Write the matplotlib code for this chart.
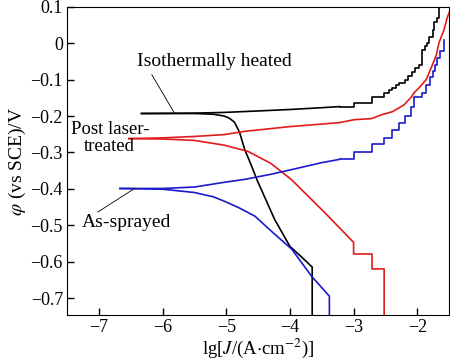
import matplotlib.pyplot as plt

plt.rcParams["font.family"] = ["Liberation Serif", "DejaVu Serif"]
plt.rcParams["mathtext.fontset"] = "stix"
plt.rcParams["font.size"] = 13

# Isothermally heated (black): smooth anodic part, stepped anodic tail, cathodic branch
iso_an_x = [-6.33, -5.5, -5.03, -4.5, -4.0, -3.5, -3.22]
iso_an_y = [-0.193, -0.192, -0.19, -0.186, -0.182, -0.177, -0.174]
iso_tail_x = [-3.22, -2.99, -2.71, -2.52, -2.45, -2.39, -2.33, -2.28, -2.20, -2.14, -2.09, -2.03, -1.97, -1.92, -1.88, -1.84, -1.81, -1.76, -1.73, -1.69, -1.66]
iso_tail_y = [-0.174, -0.163, -0.149, -0.136, -0.128, -0.122, -0.115, -0.108, -0.100, -0.09, -0.078, -0.068, -0.059, -0.018, -0.008, 0.001, 0.018, 0.037, 0.059, 0.070, 0.1]
iso_ca_x = [-6.33, -5.5, -5.2, -5.03, -4.95, -4.87, -4.79, -4.71, -4.6, -4.52, -4.24, -4.0, -3.8, -3.65, -3.65]
iso_ca_y = [-0.193, -0.193, -0.195, -0.2, -0.206, -0.217, -0.245, -0.292, -0.338, -0.374, -0.484, -0.558, -0.59, -0.615, -0.75]

# Post laser-treated (red)
las_an_x = [-6.53, -6.0, -5.5, -5.03, -4.71, -4.0, -3.5, -3.22, -2.99, -2.72, -2.55, -2.39, -2.28, -2.20, -2.09, -2.05, -1.97, -1.86, -1.78, -1.70, -1.66, -1.58, -1.53, -1.50]
las_an_y = [-0.262, -0.26, -0.256, -0.251, -0.242, -0.229, -0.222, -0.218, -0.210, -0.207, -0.196, -0.188, -0.177, -0.168, -0.147, -0.136, -0.122, -0.100, -0.067, -0.032, 0.001, 0.037, 0.070, 0.084]
las_ca_x = [-6.53, -6.0, -5.5, -5.03, -4.66, -4.3, -3.98, -3.46, -3.0, -3.0, -2.71, -2.71, -2.52, -2.52]
las_ca_y = [-0.262, -0.263, -0.267, -0.28, -0.297, -0.33, -0.374, -0.464, -0.547, -0.579, -0.579, -0.62, -0.62, -0.75]

# As-sprayed (blue)
spr_an_x = [-6.67, -6.0, -5.5, -5.03, -4.71, -4.3, -3.97, -3.5, -3.22]
spr_an_y = [-0.399, -0.399, -0.395, -0.382, -0.374, -0.36, -0.347, -0.328, -0.319]
spr_tail_x = [-3.22, -2.99, -2.71, -2.52, -2.40, -2.28, -2.20, -2.10, -2.05, -1.92, -1.86, -1.80, -1.76, -1.72, -1.69, -1.64, -1.58]
spr_tail_y = [-0.319, -0.300, -0.278, -0.259, -0.237, -0.218, -0.201, -0.174, -0.149, -0.136, -0.114, -0.092, -0.075, -0.059, -0.040, -0.02, 0.01]
spr_ca_x = [-6.67, -6.0, -5.5, -5.2, -5.03, -4.8, -4.55, -4.3, -3.97, -3.66, -3.38, -3.38]
spr_ca_y = [-0.399, -0.401, -0.41, -0.422, -0.434, -0.452, -0.475, -0.515, -0.566, -0.64, -0.695, -0.75]

fig = plt.figure(figsize=(4.5, 3.61), dpi=100)
ax = fig.add_axes([0.149, 0.127, 0.849, 0.854])

lw = 1.2
black, red, blue = "black", "#e31a1a", "#1a1acc"
ax.plot(iso_an_x, iso_an_y, color=black, lw=lw)
ax.plot(iso_tail_x, iso_tail_y, color=black, lw=lw, drawstyle="steps-post")
ax.plot(iso_ca_x, iso_ca_y, color=black, lw=lw)
ax.plot(las_an_x, las_an_y, color=red, lw=lw)
ax.plot(las_ca_x, las_ca_y, color=red, lw=lw)
ax.plot(spr_an_x, spr_an_y, color=blue, lw=lw)
ax.plot(spr_tail_x, spr_tail_y, color=blue, lw=lw, drawstyle="steps-post")
ax.plot(spr_ca_x, spr_ca_y, color=blue, lw=lw)

ax.set_xlim(-7.5, -1.5)
ax.set_ylim(-0.747, 0.1)
ax.set_xticks([-7, -6, -5, -4, -3, -2])
ax.set_yticks([-0.7, -0.6, -0.5, -0.4, -0.3, -0.2, -0.1, 0, 0.1])
ax.set_yticklabels(["\u22120.7", "\u22120.6", "\u22120.5", "\u22120.4", "\u22120.3", "\u22120.2", "\u22120.1", "0", "0.1"])
ax.set_xticklabels(["\u22127", "\u22126", "\u22125", "\u22124", "\u22123", "\u22122"])
ax.tick_params(direction="in", length=5, width=1, pad=3)

ax.set_xlabel(r"lg[$J$/(A$\cdot$cm$^{-2}$)]", labelpad=0, fontsize=13.5)
ax.set_ylabel(r"$\varphi$ (vs SCE)/V", labelpad=2, fontsize=14)

ax.text(-5.18, -0.051, "Isothermally heated", ha="center", va="center", fontsize=14)
ax.annotate("", xy=(-5.81, -0.193), xytext=(-6.17, -0.086),
            arrowprops=dict(arrowstyle="-", lw=0.6, color="black", shrinkA=0, shrinkB=0))
ax.text(-6.83, -0.259, "Post laser-\ntreated", ha="center", va="center", linespacing=1.0, fontsize=13.5)
ax.text(-6.56, -0.492, "As-sprayed", ha="center", va="center", fontsize=14)
ax.annotate("", xy=(-6.44, -0.399), xytext=(-7.02, -0.464),
            arrowprops=dict(arrowstyle="-", lw=0.6, color="black", shrinkA=0, shrinkB=0))

fig.savefig("out.png", dpi=100)
